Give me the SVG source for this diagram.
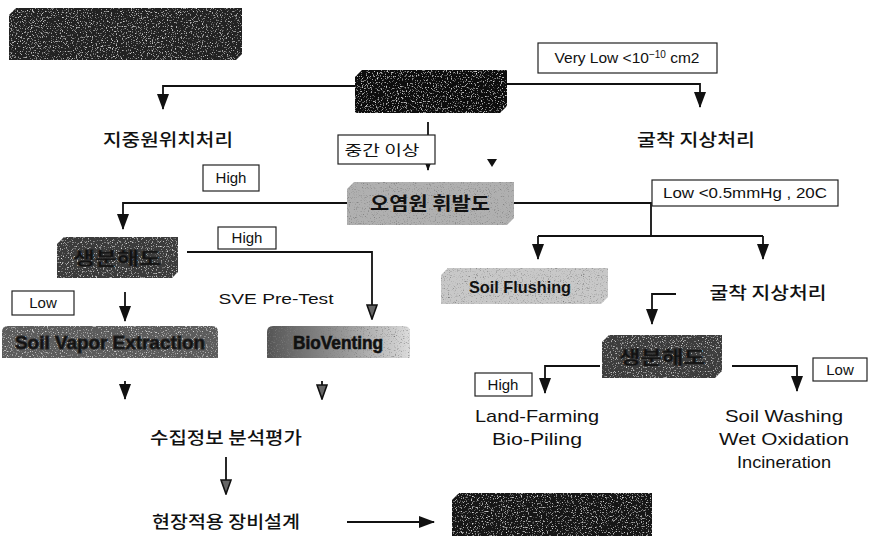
<svg xmlns="http://www.w3.org/2000/svg" width="873" height="536" viewBox="0 0 873 536">
<style>
.lbl{fill:#fff;stroke:#222;stroke-width:1.2}
.t{font-family:"Liberation Sans",Arial,sans-serif;fill:#111}
.k{font-family:"Noto Sans CJK KR","Noto Sans",sans-serif;fill:#111}
.c{fill:none;stroke:#111;stroke-width:1.8}
</style>
<defs>
<filter id="grain" x="0" y="0" width="1" height="1">
<feTurbulence type="fractalNoise" baseFrequency="0.8" numOctaves="2" seed="3" result="n"/>
<feColorMatrix in="n" type="matrix" values="0 0 0 0 0.8  0 0 0 0 0.8  0 0 0 0 0.8  0 0 0 3.5 -2.05" result="w"/>
<feComposite in="w" in2="SourceGraphic" operator="in" result="wm"/>
<feMerge><feMergeNode in="SourceGraphic"/><feMergeNode in="wm"/></feMerge>
</filter>
<filter id="grainD" x="0" y="0" width="1" height="1">
<feTurbulence type="fractalNoise" baseFrequency="0.85" numOctaves="2" seed="7" result="n"/>
<feColorMatrix in="n" type="matrix" values="0 0 0 0 0.2  0 0 0 0 0.2  0 0 0 0 0.2  0 0 0 3.2 -1.8" result="w"/>
<feComposite in="w" in2="SourceGraphic" operator="in" result="wm"/>
<feMerge><feMergeNode in="SourceGraphic"/><feMergeNode in="wm"/></feMerge>
</filter>
<linearGradient id="bv" x1="0" x2="1" y1="0" y2="0">
<stop offset="0" stop-color="#555"/><stop offset="0.55" stop-color="#999"/><stop offset="1" stop-color="#dcdcdc"/>
</linearGradient>
<marker id="ah" viewBox="0 0 16 12" refX="15" refY="6" markerWidth="16" markerHeight="12" markerUnits="userSpaceOnUse" orient="auto">
<path d="M0,0 L16,6 L0,12 Z" fill="#111"/>
</marker>
<marker id="ah2" viewBox="0 0 16 12" refX="15" refY="6" markerWidth="16" markerHeight="12" markerUnits="userSpaceOnUse" orient="auto">
<path d="M1,1 L15,6 L1,11 Z" fill="#666" stroke="#111" stroke-width="1.6"/>
</marker>
</defs>

<g id="header">
<path d="M16,8 L242,8 L242,54 L236,60 L9,60 L9,15 Z" fill="#222" filter="url(#grain)"/>
</g>

<g id="permeability">
<path d="M362,70 L507,70 L507,106 L500,113 L355,113 L355,77 Z" fill="#0a0a0a" filter="url(#grain)"/>
</g>

<g id="insitu"><text class="k" x="168" y="146" font-size="17" font-weight="500" text-anchor="middle" textLength="130" lengthAdjust="spacingAndGlyphs">지중원위치처리</text></g>
<g id="exsitu1"><text class="k" x="696" y="146" font-size="17" font-weight="500" text-anchor="middle" textLength="118" lengthAdjust="spacingAndGlyphs">굴착 지상처리</text></g>

<g id="volatility">
<path d="M354,182 L514,182 L514,218 L507,225 L347,225 L347,189 Z" fill="#b0b0b0" filter="url(#grainD)"/>
<text class="k" x="430" y="210" font-size="18" font-weight="bold" text-anchor="middle" fill="#333" textLength="120" lengthAdjust="spacingAndGlyphs">오염원 휘발도</text>
</g>

<g id="biodeg1">
<path d="M64,237 L178,237 L178,272 L172,278 L57,278 L57,244 Z" fill="#3a3a3a" filter="url(#grain)"/>
<text class="k" x="117" y="265" font-size="18" font-weight="bold" text-anchor="middle" fill="#4a4a4a" stroke="#2a2a2a" stroke-width="0.6" textLength="88" lengthAdjust="spacingAndGlyphs">생분해도</text>
</g>

<g id="sve">
<path d="M8,326 L212,326 Q218,326 218,332 L218,358 L2,358 L2,332 Q2,326 8,326 Z" fill="#5c5c5c" filter="url(#grain)"/>
<text class="t" x="110" y="349" font-size="18" font-weight="bold" text-anchor="middle" fill="#a8a8a8" stroke="#222" stroke-width="0.8" textLength="190" lengthAdjust="spacingAndGlyphs">Soil Vapor Extraction</text>
</g>

<g id="bioventing">
<path d="M273,326 L404,326 Q410,326 410,332 L410,358 L267,358 L267,332 Q267,326 273,326 Z" fill="url(#bv)" filter="url(#grainD)"/>
<text class="t" x="338" y="349" font-size="18" font-weight="bold" text-anchor="middle" fill="#555" stroke="#111" stroke-width="0.6" textLength="90" lengthAdjust="spacingAndGlyphs">BioVenting</text>
</g>

<g id="flushing">
<path d="M448,268 L608,268 L608,297 L601,304 L441,304 L441,275 Z" fill="#c8c8c8" filter="url(#grainD)"/>
<text class="t" x="520" y="293" font-size="17" font-weight="bold" text-anchor="middle" fill="#3a3a3a" textLength="102" lengthAdjust="spacingAndGlyphs">Soil Flushing</text>
</g>

<g id="exsitu2"><text class="k" x="768" y="299" font-size="17" font-weight="500" text-anchor="middle" textLength="117" lengthAdjust="spacingAndGlyphs">굴착 지상처리</text></g>

<g id="biodeg2">
<path d="M609,335 L722,335 L722,371 L715,378 L602,378 L602,342 Z" fill="#3e3e3e" filter="url(#grain)"/>
<text class="k" x="662" y="364" font-size="18" font-weight="bold" text-anchor="middle" fill="#555" stroke="#2a2a2a" stroke-width="0.6" textLength="86" lengthAdjust="spacingAndGlyphs">생분해도</text>
</g>

<g id="landfarming">
<text class="t" x="537" y="422" font-size="17" text-anchor="middle" textLength="124" lengthAdjust="spacingAndGlyphs">Land-Farming</text>
<text class="t" x="537" y="445" font-size="17" text-anchor="middle" textLength="90" lengthAdjust="spacingAndGlyphs">Bio-Piling</text>
</g>

<g id="washing">
<text class="t" x="784" y="422" font-size="17" text-anchor="middle" textLength="118" lengthAdjust="spacingAndGlyphs">Soil Washing</text>
<text class="t" x="784" y="445" font-size="17" text-anchor="middle" textLength="130" lengthAdjust="spacingAndGlyphs">Wet Oxidation</text>
<text class="t" x="784" y="468" font-size="17" text-anchor="middle" textLength="94" lengthAdjust="spacingAndGlyphs">Incineration</text>
</g>

<g id="analysis"><text class="k" x="226" y="444" font-size="17" font-weight="500" text-anchor="middle" textLength="152" lengthAdjust="spacingAndGlyphs">수집정보 분석평가</text></g>
<g id="design"><text class="k" x="226" y="528" font-size="17" font-weight="500" text-anchor="middle" textLength="148" lengthAdjust="spacingAndGlyphs">현장적용 장비설계</text></g>

<g id="final">
<path d="M459,493 L652,493 L652,536 L452,536 L452,500 Z" fill="#141414" filter="url(#grain)"/>
</g>

<g id="sveprestest"><text class="t" x="276" y="304" font-size="15" text-anchor="middle" textLength="115" lengthAdjust="spacingAndGlyphs">SVE Pre-Test</text></g>

<g id="connectors">
<path class="c" d="M355,86 H163 V109" marker-end="url(#ah)"/>
<path class="c" d="M507,84 H700 V107" marker-end="url(#ah)"/>
<path class="c" d="M428,122 V170" marker-end="url(#ah)"/>
<polygon points="487,159 497,159 492,167" fill="#111"/>
<path class="c" d="M347,203 H123 V229" marker-end="url(#ah)"/>
<path class="c" d="M514,203 H651 V236"/>
<path class="c" d="M538,236 H763"/>
<path class="c" d="M538,236 V259" marker-end="url(#ah)"/>
<path class="c" d="M763,236 V259" marker-end="url(#ah)"/>
<path class="c" d="M187,252 H372 V319" marker-end="url(#ah2)"/>
<path class="c" d="M125,292 V321" marker-end="url(#ah)"/>
<path class="c" d="M125,381 V399" marker-end="url(#ah)"/>
<path class="c" d="M322,381 V399" marker-end="url(#ah2)"/>
<path class="c" d="M226,457 V494" marker-end="url(#ah2)"/>
<path class="c" d="M347,522 H434" marker-end="url(#ah)"/>
<path class="c" d="M676,294 H652 V324" marker-end="url(#ah)"/>
<path class="c" d="M600,366 H545 V393" marker-end="url(#ah)"/>
<path class="c" d="M732,366 H797 V391" marker-end="url(#ah)"/>
</g>

<g id="labels">
<rect class="lbl" x="538" y="43" width="179" height="30"/>
<text class="t" x="627" y="63" font-size="15.5" text-anchor="middle">Very Low &lt;10<tspan font-size="10" dy="-5">−10</tspan><tspan dy="5"> cm2</tspan></text>
<rect class="lbl" x="338" y="135" width="97" height="29"/>
<text class="k" x="382" y="155" font-size="14" text-anchor="middle" textLength="75" lengthAdjust="spacingAndGlyphs">중간 이상</text>
<rect class="lbl" x="203" y="165" width="56" height="26"/>
<text class="t" x="231" y="183" font-size="15" text-anchor="middle">High</text>
<rect class="lbl" x="652" y="180" width="186" height="26"/>
<text class="t" x="745" y="198" font-size="14" text-anchor="middle" textLength="164" lengthAdjust="spacingAndGlyphs">Low &lt;0.5mmHg , 20C</text>
<rect class="lbl" x="218" y="227" width="58" height="22"/>
<text class="t" x="247" y="243" font-size="15" text-anchor="middle">High</text>
<rect class="lbl" x="12" y="291" width="62" height="24"/>
<text class="t" x="43" y="308" font-size="15" text-anchor="middle">Low</text>
<rect class="lbl" x="475" y="373" width="57" height="23"/>
<text class="t" x="503" y="390" font-size="15" text-anchor="middle">High</text>
<rect class="lbl" x="813" y="358" width="54" height="23"/>
<text class="t" x="840" y="375" font-size="15" text-anchor="middle">Low</text>
</g>
</svg>
